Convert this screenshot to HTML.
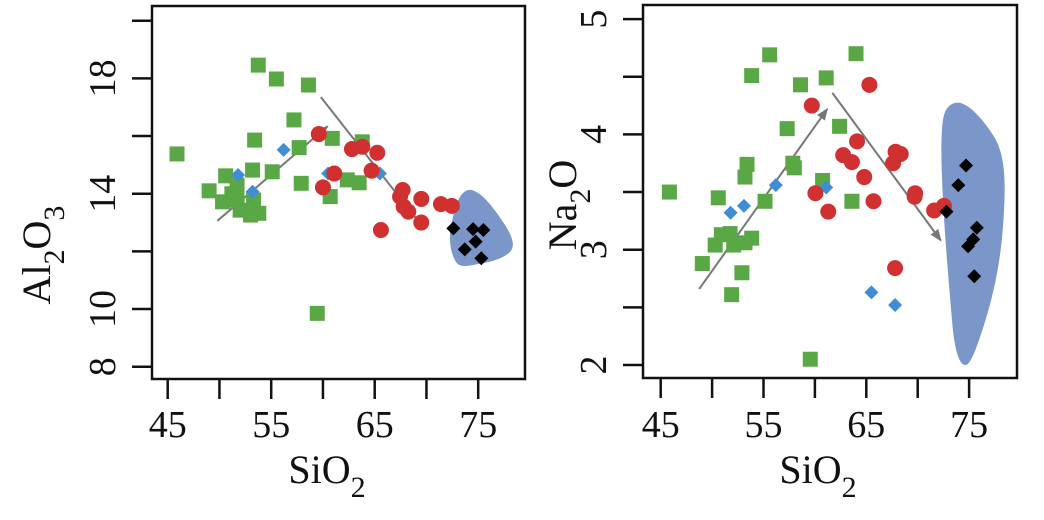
<!DOCTYPE html>
<html><head><meta charset="utf-8"><style>
html,body{margin:0;padding:0;background:#fff;}
svg{display:block;}
svg text{font-family:"Liberation Serif","Times New Roman",Times,serif;}
</style></head><body>
<svg id="chart" width="1044" height="520" viewBox="0 0 1044 520" xmlns="http://www.w3.org/2000/svg">
<defs><marker id="ah" viewBox="0 0 10 10" refX="9" refY="5" markerWidth="6" markerHeight="6" orient="auto"><path d="M0,1 L10,5 L0,9 z" fill="#777"/></marker></defs>
</svg>
<script>
// Panel 1: Al2O3 vs SiO2
const p1GreenX=[45.9,53.75,55.5,58.6,57.2,53.4,57.7,60.9,63.8,50.6,53.2,55.1,49.0,51.7,57.9,62.35,63.5,60.7,50.3,51.7,53.3,52.0,53.0,53.8,59.45,51.2];
const p1GreenY=[15.38,18.46,17.98,17.77,16.56,15.86,15.6,15.92,15.8,14.62,14.82,14.76,14.1,14.3,14.36,14.48,14.38,13.9,13.72,13.78,13.78,13.43,13.26,13.32,9.85,14.0];
const p1BlueX=[56.2,51.8,53.2,65.5,60.5];
const p1BlueY=[15.52,14.65,14.07,14.7,14.7];
const p1RedX=[59.6,62.8,63.8,65.25,61.1,60.0,64.7,67.7,67.45,67.8,68.25,69.5,69.5,65.6,71.4,72.45];
const p1RedY=[16.07,15.55,15.63,15.42,14.7,14.22,14.8,14.13,13.9,13.55,13.38,13.82,13.0,12.74,13.64,13.58];
const p1BlackX=[72.6,74.5,75.5,74.75,73.7,75.3];
const p1BlackY=[12.8,12.77,12.74,12.34,12.07,11.76];
const p1ArrowX=[[49.8,60.45],[59.8,69.75]];
const p1ArrowY=[[13.06,16.34],[17.35,12.8]];
const p1YTicks=[8,10,12,14,16,18,20];
const p1YLabels=["8","10","","14","","18",""];
// Panel 2: Na2O vs SiO2
const p2GreenX=[45.85,55.6,53.85,58.6,61.1,64.0,57.3,62.4,53.4,53.2,57.85,58.0,60.75,50.6,55.15,63.6,51.75,50.9,50.3,52.1,53.2,53.85,49.05,52.9,51.9,59.55];
const p2GreenY=[3.50,4.69,4.51,4.43,4.49,4.70,4.05,4.07,3.74,3.63,3.75,3.71,3.60,3.45,3.42,3.42,3.14,3.13,3.04,3.04,3.06,3.10,2.88,2.80,2.61,2.05];
const p2BlueX=[56.2,53.1,51.8,61.1,65.5,67.8];
const p2BlueY=[3.56,3.38,3.32,3.54,2.63,2.52];
const p2RedX=[65.3,59.7,64.1,62.75,63.6,64.8,67.85,68.35,67.6,60.05,61.3,65.7,69.75,69.7,71.6,72.55,67.8];
const p2RedY=[4.43,4.25,3.94,3.82,3.76,3.63,3.85,3.83,3.75,3.49,3.33,3.42,3.49,3.46,3.34,3.38,2.84];
const p2BlackX=[74.7,73.95,72.8,75.75,75.4,74.9,75.5];
const p2BlackY=[3.73,3.56,3.33,3.19,3.09,3.03,2.77];
const p2ArrowX=[[48.75,61.2],[61.7,72.25]];
const p2ArrowY=[[2.66,4.22],[4.36,3.08]];
const p2YTicks=[2,2.5,3,3.5,4,4.5,5];
const p2YLabels=["2","","3","","4","","5"];
const xTicks=[45,50,55,60,65,70,75];
const xLabels=["45","","55","","65","","75"];

const FONT='"Liberation Serif","Times New Roman",Times,serif';
const NS="http://www.w3.org/2000/svg";
const svg=document.getElementById('chart');
function mk(tag,attrs,parent){const e=document.createElementNS(NS,tag);for(const k in attrs)e.setAttribute(k,attrs[k]);if(tag==='text')e.setAttribute('font-family',FONT);(parent||svg).appendChild(e);return e;}

function panel(cfg){
  const g=mk('g',{});
  
  
  const X=v=>cfg.x0+(v-45)*cfg.xs;
  const Y=v=>cfg.y0-(v-cfg.ymin)*cfg.ys;
  const blob=mk('path',{d:cfg.blob,fill:'#7b96c8'},g);
  
  
  const fr=mk('rect',{x:cfg.bx0,y:cfg.by0,width:cfg.bx1-cfg.bx0,height:cfg.by1-cfg.by0,fill:'none',stroke:'#111','stroke-width':2.5},g);
  
  
  xTicks.forEach((t,i)=>{
    const l=mk('line',{x1:X(t),x2:X(t),y1:cfg.by1,y2:cfg.by1+20,stroke:'#111','stroke-width':2.5},g);
    
    
    if(xLabels[i]){const tx=mk('text',{x:X(t),y:437,'text-anchor':'middle','font-size':38,fill:'#111'},g);tx.textContent=xLabels[i];
      
      }
  });
  cfg.yTicks.forEach((t,i)=>{
    const l=mk('line',{x1:cfg.bx0-20,x2:cfg.bx0,y1:Y(t),y2:Y(t),stroke:'#111','stroke-width':2.5},g);
    
    
    if(cfg.yLabels[i]){const tx=mk('text',{transform:`translate(${cfg.bx0-37},${Y(t)}) rotate(-90)`,'text-anchor':'middle','font-size':38,fill:'#111'},g);tx.textContent=cfg.yLabels[i];
      
      }
  });
  for(let i=0;i<2;i++){
    const a=mk('line',{x1:X(cfg.ax[i][0]),y1:Y(cfg.ay[i][0]),x2:X(cfg.ax[i][1]),y2:Y(cfg.ay[i][1]),stroke:'#777','stroke-width':2,'marker-end':'url(#ah)'},g);
    
    
  }
  cfg.gx.forEach((v,i)=>{const s=7.5;const r=mk('rect',{x:X(v)-s,y:Y(cfg.gy[i])-s,width:2*s,height:2*s,fill:'#5aa845'},g);
    
    });
  cfg.bx.forEach((v,i)=>{const cx=X(v),cy=Y(cfg.by[i]),s=7;const p=mk('path',{d:`M${cx},${cy-s}L${cx+s},${cy}L${cx},${cy+s}L${cx-s},${cy}Z`,fill:'#3f8ed4'},g);
    
    });
  cfg.rx.forEach((v,i)=>{const c=mk('circle',{cx:X(v),cy:Y(cfg.ry[i]),r:8,fill:'#d03030'},g);
    
    });
  cfg.kx.forEach((v,i)=>{const cx=X(v),cy=Y(cfg.ky[i]),s=7;const p=mk('path',{d:`M${cx},${cy-s}L${cx+s},${cy}L${cx},${cy+s}L${cx-s},${cy}Z`,fill:'#000'},g);
    
    });
  const xt=mk('text',{x:cfg.xtX,y:483,'text-anchor':'middle','font-size':40,fill:'#111'},g);
  xt.innerHTML='SiO<tspan font-size="30" dy="14">2</tspan>';
  
  
  const yt=mk('text',{transform:`translate(${cfg.ytX},${cfg.ytY}) rotate(-90)`,'text-anchor':'middle','font-size':40,fill:'#111'},g);
  yt.innerHTML=cfg.ytitle;
  
  
}

panel({name:'al2o3-panel',x0:167.7,xs:10.35,ymin:8,y0:366.7,ys:28.83,bx0:152,bx1:525,by0:6,by1:379,
  yTicks:p1YTicks,yLabels:p1YLabels,ax:p1ArrowX,ay:p1ArrowY,
  gx:p1GreenX,gy:p1GreenY,bx:p1BlueX,by:p1BlueY,rx:p1RedX,ry:p1RedY,kx:p1BlackX,ky:p1BlackY,
  blob:'M468,190 C478,188 492,205 503,222 C512,235 516,246 510,252 C504,258 492,262 478,264 C468,266 460,268 456,262 C450,252 448,238 452,222 C455,205 460,192 468,190 Z',
  xtX:327,ytX:50,ytY:255,ytitle:'Al<tspan font-size="30" dy="14">2</tspan><tspan dy="-14">O</tspan><tspan font-size="30" dy="14">3</tspan>'});

panel({name:'na2o-panel',x0:660.7,xs:10.28,ymin:2,y0:365,ys:115.3,bx0:643,bx1:1017,by0:5,by1:378,
  yTicks:p2YTicks,yLabels:p2YLabels,ax:p2ArrowX,ay:p2ArrowY,
  gx:p2GreenX,gy:p2GreenY,bx:p2BlueX,by:p2BlueY,rx:p2RedX,ry:p2RedY,kx:p2BlackX,ky:p2BlackY,
  blob:'M955,103 C966,100 982,118 993,135 C1004,152 1006,175 1004,210 C1002,255 995,290 984,325 C976,350 970,366 965,365 C958,364 954,345 952,320 C949,285 945,240 943,200 C941,160 940,125 945,112 C948,106 951,104 955,103 Z',
  xtX:818,ytX:576,ytY:205,ytitle:'Na<tspan font-size="30" dy="14">2</tspan><tspan dy="-14">O</tspan>'});
</script>
</body></html>
